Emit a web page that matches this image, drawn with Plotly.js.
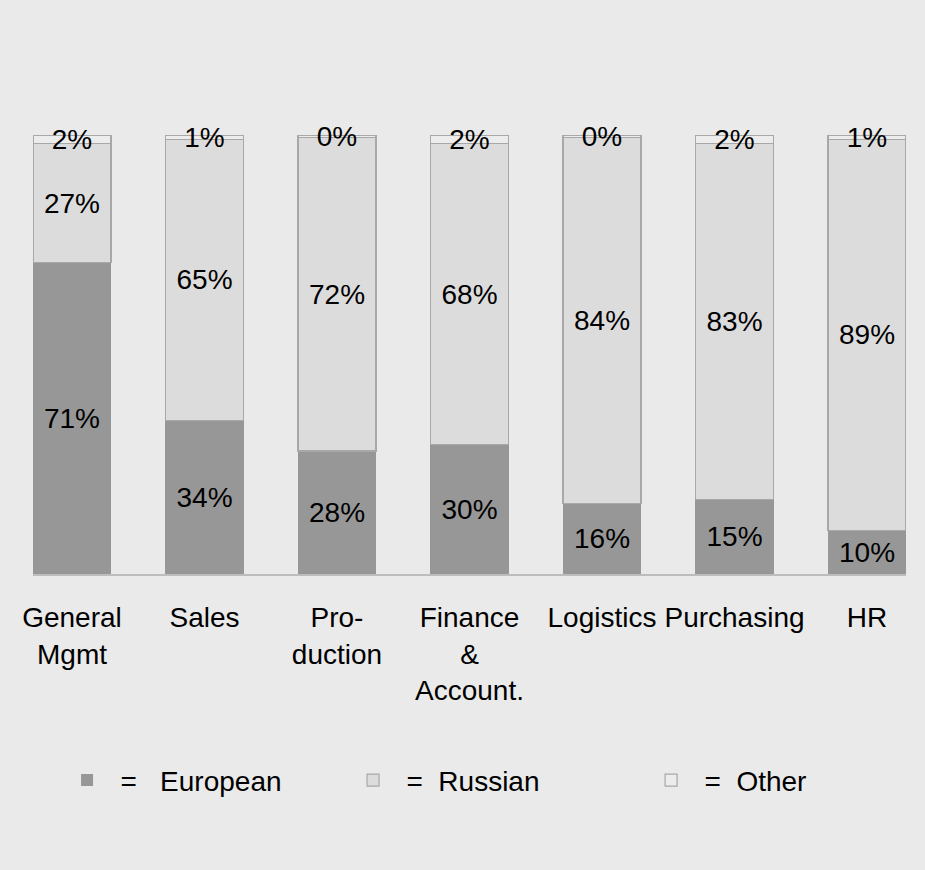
<!DOCTYPE html>
<html>
<head>
<meta charset="utf-8">
<script src="https://cdn.plot.ly/plotly-3.0.1.min.js"></script>
<style>html,body{margin:0;padding:0;background:#eaeaea;}#chart{width:925px;height:870px;}</style>
</head>
<body>
<div id="chart"></div>
<script>
// Data (share of staff, %)
var categories = ["General<br>Mgmt", "Sales", "Pro-<br>duction", "Finance<br>&<br>Account.", "Logistics", "Purchasing", "HR"];
var european = [71, 35, 28, 29.5, 16, 17, 10];
var russian  = [27, 64, 71.5, 68.5, 83.5, 81, 89];
var other    = [2, 1, 0.5, 2, 0.5, 2, 1];
var europeanLabels = ["71%", "34%", "28%", "30%", "16%", "15%", "10%"];
var russianLabels  = ["27%", "65%", "72%", "68%", "84%", "83%", "89%"];
var otherLabels    = ["2%", "1%", "0%", "2%", "0%", "2%", "1%"];
var seriesNames = ["\u00a0\u2009=\u00a0\u00a0\u00a0European", "\u00a0\u2009=\u00a0\u00a0Russian", "\u00a0\u2009=\u00a0\u00a0Other"];

var FONT = "Liberation Sans, Arial, sans-serif";
var textFont = {family: FONT, size: 28, color: "#000000"};

function barTrace(vals, labels, name, fill, lineColor, lineWidth, legendId) {
  return {
    type: "bar",
    x: categories,
    y: vals,
    name: name,
    legend: legendId,
    text: labels,
    textposition: "inside",
    insidetextanchor: "middle",
    textangle: 0,
    constraintext: "none",
    cliponaxis: false,
    insidetextfont: textFont,
    textfont: textFont,
    marker: {color: fill, line: {color: lineColor, width: lineWidth}},
    hoverinfo: "skip"
  };
}

var data = [
  barTrace(european, europeanLabels, seriesNames[0], "#979797", "#979797", 0, "legend"),
  barTrace(russian, russianLabels, seriesNames[1], "#dcdcdc", "#a8a8a8", 1.2, "legend2"),
  barTrace(other, otherLabels, seriesNames[2], "#ececec", "#a8a8a8", 1.2, "legend3")
];

function legendAt(xPos) {
  return {
    orientation: "h",
    x: xPos,
    xanchor: "left",
    y: -0.47,
    yanchor: "middle",
    bgcolor: "rgba(0,0,0,0)",
    font: {family: FONT, size: 28, color: "#000000"}
  };
}

var layout = {
  width: 925,
  height: 870,
  paper_bgcolor: "#eaeaea",
  plot_bgcolor: "rgba(0,0,0,0)",
  margin: {l: 33, r: 19, t: 135, b: 296, pad: 0},
  barmode: "stack",
  barnorm: "percent",
  bargap: 0.411,
  font: {family: FONT, size: 28, color: "#000000"},
  showlegend: true,
  legend: legendAt(0.039),
  legend2: legendAt(0.3666),
  legend3: legendAt(0.708),
  xaxis: {
    type: "category",
    range: [-0.2943, 6.2943],
    showline: true,
    linecolor: "#bdbdbd",
    linewidth: 1.5,
    ticks: "",
    showgrid: false,
    zeroline: false,
    ticklabelstandoff: 18,
    tickfont: {family: FONT, size: 28, color: "#000000"}
  },
  yaxis: {
    visible: false,
    range: [0, 100],
    showgrid: false,
    zeroline: false
  }
};

Plotly.newPlot("chart", data, layout, {displayModeBar: false, staticPlot: true});
</script>
</body>
</html>
